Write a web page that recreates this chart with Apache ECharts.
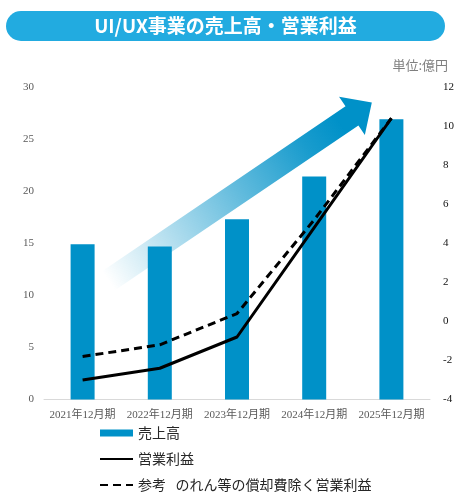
<!DOCTYPE html>
<html>
<head>
<meta charset="utf-8">
<script src="https://cdn.jsdelivr.net/npm/echarts@6/dist/echarts.min.js"></script>
<style>
html,body{margin:0;padding:0;background:#fff;}
#c{width:474px;height:499px;}
</style>
</head>
<body>
<div id="c"></div>
<script>
const categories = ['2021年12月期','2022年12月期','2023年12月期','2024年12月期','2025年12月期'];
const sales = [14.9, 14.7, 17.3, 21.4, 26.9];
const operatingProfit = [-3.0, -2.4, -0.8, 4.8, 10.4];
const adjustedProfit = [-1.8, -1.2, 0.4, 5.2, 10.4];
const leftTicks = {min: 0, max: 30, interval: 5};
const rightTicks = {min: -4, max: 12, interval: 2};
const seriesNames = ['売上高', '営業利益', '参考   のれん等の償却費除く営業利益'];

const chart = echarts.init(document.getElementById('c'), null, {renderer: 'canvas'});
const serif = '"Liberation Serif", "Noto Sans CJK JP", serif';
const sans = '"Noto Sans CJK JP", "Noto Sans", sans-serif';

const arrowL = 318, headBack = 294, shaftHW = 11.5, headHW = 23;

chart.setOption({
  animation: false,
  textStyle: {fontFamily: sans},
  graphic: [
    {
      type: 'rect', left: 6, top: 11, z: 10,
      shape: {width: 439, height: 30, r: 15},
      style: {fill: '#22abe0'}
    },
    {
      type: 'text', z: 11, x: 225.5, y: 26,
      style: {
        text: 'UI/UX事業の売上高・営業利益',
        fill: '#ffffff', font: 'bold 19px "Noto Sans CJK JP", sans-serif',
        align: 'center', verticalAlign: 'middle'
      }
    },
    {
      type: 'text', z: 11, x: 448, y: 65,
      style: {
        text: '単位:億円', fill: '#7f7f7f',
        font: '13px "Noto Sans CJK JP", sans-serif',
        align: 'right', verticalAlign: 'middle'
      }
    },
    {
      type: 'group', x: 108.5, y: 280.7, rotation: 34.1 * Math.PI / 180, z: 0, zlevel: 0,
      children: [{
        type: 'polygon', z: 0,
        shape: {points: [[0,-shaftHW],[headBack,-shaftHW],[headBack,-headHW],[arrowL,0],[headBack,headHW],[headBack,shaftHW],[0,shaftHW]]},
        style: {
          fill: new echarts.graphic.LinearGradient(0, 0, 1, 0, [
            {offset: 0, color: 'rgba(0,145,200,0.0)'},
            {offset: 0.2, color: 'rgba(0,145,200,0.25)'},
            {offset: 0.5, color: 'rgba(0,145,200,0.62)'},
            {offset: 0.75, color: 'rgba(0,145,200,0.9)'},
            {offset: 0.88, color: 'rgba(0,145,200,1)'},
            {offset: 1, color: 'rgba(0,145,200,1)'}
          ])
        }
      }]
    }
  ],
  grid: {left: 44, right: 44, top: 87, bottom: 99.5, containLabel: false},
  legend: {
    orient: 'vertical', left: 99, top: 426, itemGap: 12, padding: 0,
    itemWidth: 33, itemHeight: 7,
    textStyle: {fontFamily: sans, fontSize: 14, color: '#262626'},
    data: [
      {name: seriesNames[0], icon: 'rect'},
      {name: seriesNames[1], itemStyle: {opacity: 0}},
      {name: seriesNames[2], itemStyle: {opacity: 0}}
    ]
  },
  xAxis: {
    type: 'category', data: categories,
    axisLine: {lineStyle: {color: '#d9d9d9', width: 1}},
    axisTick: {show: false},
    axisLabel: {color: '#595959', fontSize: 11, fontFamily: serif, margin: 10, interval: 0}
  },
  yAxis: [
    {
      type: 'value', min: leftTicks.min, max: leftTicks.max, interval: leftTicks.interval,
      splitLine: {show: false}, axisLine: {show: false}, axisTick: {show: false},
      axisLabel: {color: '#595959', fontSize: 11, fontFamily: serif, margin: 10}
    },
    {
      type: 'value', min: rightTicks.min, max: rightTicks.max, interval: rightTicks.interval,
      splitLine: {show: false}, axisLine: {show: false}, axisTick: {show: false},
      axisLabel: {color: '#111', fontSize: 11, fontFamily: serif, margin: 13}
    }
  ],
  series: [
    {
      name: seriesNames[0], type: 'bar', data: sales, yAxisIndex: 0,
      barWidth: 24, z: 3,
      itemStyle: {color: '#0091c8'}
    },
    {
      name: seriesNames[1], type: 'line', data: operatingProfit, yAxisIndex: 1,
      symbol: 'none', z: 5,
      lineStyle: {color: '#000', width: 3, type: 'solid'},
      itemStyle: {color: '#000'}
    },
    {
      name: seriesNames[2], type: 'line', data: adjustedProfit, yAxisIndex: 1,
      symbol: 'none', z: 4,
      lineStyle: {color: '#000', width: 3, type: [8, 5]},
      itemStyle: {color: '#000'}
    }
  ]
});
</script>
</body>
</html>
